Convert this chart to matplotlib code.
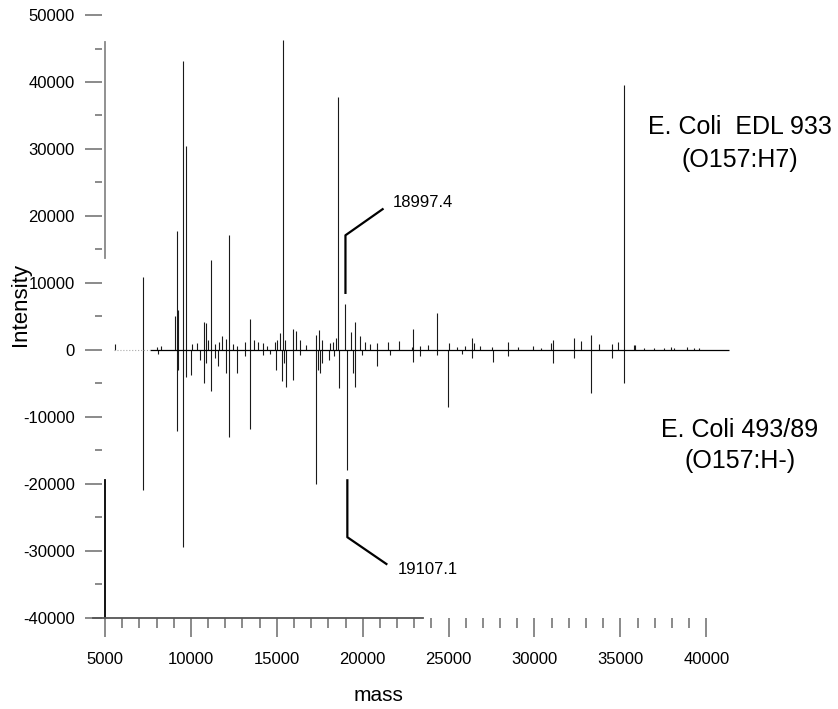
import matplotlib
matplotlib.use('Agg')
import matplotlib.pyplot as plt

plt.rcParams['font.family'] = ['Liberation Sans', 'DejaVu Sans']

# E. coli EDL 933 (O157:H7), plotted upwards
upper_mass = [5580, 7209, 8000, 8250, 9070, 9186, 9273, 9518, 9692, 10058,
              10349, 10756, 10872, 10988, 11163, 11395, 11628, 11802, 12035,
              12209, 12442, 12674, 13140, 13430, 13663, 13895, 14186, 14419,
              14884, 15000, 15174, 15349, 15465, 15930, 16105, 16337, 16700,
              17267, 17442, 17616, 18081, 18256, 18430, 18546, 18997, 19303,
              19535, 19826, 20116, 20407, 20814, 21453, 22093, 22849, 22907,
              23314, 23779, 24302, 25000, 25500, 25930, 26337, 26453, 26802,
              27500, 28430, 29012, 29884, 30400, 30988, 31105, 32325, 32732,
              33314, 33779, 34535, 34884, 35193, 35814, 35872, 36400, 36977,
              37558, 37965, 38140, 38896, 39303, 39593]
upper_int = [900, 10900, 400, 500, 5000, 17700, 6000, 43200, 30500, 800,
             1000, 4200, 4000, 1500, 13400, 800, 1200, 2000, 1600,
             17100, 800, 600, 1200, 4600, 1500, 1200, 1000, 600,
             1100, 1500, 2500, 46200, 1500, 3100, 2800, 1500, 700,
             2200, 3000, 1500, 1000, 1200, 1800, 37800, 6900, 2600,
             4100, 2000, 1200, 800, 1000, 1200, 1300, 400, 3100,
             500, 700, 5500, 1000, 400, 500, 1800, 1000, 500,
             400, 1200, 400, 500, 300, 1000, 1400, 1700, 1300,
             2200, 800, 900, 1200, 39500, 700, 700, 300, 300,
             300, 400, 300, 400, 200, 200]

# E. coli 493/89 (O157:H-), plotted downwards
lower_mass = [7209, 8100, 9209, 9244, 9518, 9709, 10000, 10523, 10756, 10872,
              11163, 11395, 11570, 12035, 12209, 12674, 13140, 13430, 14186,
              14600, 14942, 15290, 15407, 15523, 15930, 16337, 17267, 17384,
              17500, 17616, 18023, 18314, 18605, 19107, 19419, 19564, 19942,
              20814, 21570, 22907, 23314, 24302, 24942, 25756, 26337, 27558,
              28430, 31105, 32325, 33314, 34535, 35193]
lower_int = [-21000, -600, -12200, -3000, -29400, -4000, -3800, -1500, -5000, -2000,
             -6100, -1200, -2500, -3400, -13000, -3500, -1000, -11800, -800,
             -600, -3000, -4700, -2000, -5500, -4500, -800, -20100, -3000,
             -3500, -2000, -1500, -1000, -5700, -17900, -3500, -5500, -800,
             -2500, -800, -1800, -1000, -800, -8500, -600, -1200, -1900,
             -1000, -2000, -1300, -6400, -1200, -4900]

# callout leaders: (mass, intensity) corners
upper_lead_m = [18997, 18997, 21160]
upper_lead_i = [8500, 17100, 21000]
lower_lead_m = [19107, 19107, 21380]
lower_lead_i = [-19500, -28000, -32000]

fig = plt.figure(figsize=(8.38, 7.09), dpi=100)
ax = fig.add_axes([0.1222, 0.129, 0.7514, 0.8498])

ax.vlines(upper_mass, 0, upper_int, color='#1a1a1a', linewidth=0.8)
ax.vlines(lower_mass, 0, lower_int, color='#1a1a1a', linewidth=0.8)
ax.hlines(0, 7600, 41350, color='black', linewidth=0.9)
ax.hlines(0, 5500, 7600, color='#aaaaaa', linewidth=0.8, linestyles=':')

ax.plot(upper_lead_m, upper_lead_i, color='black', linewidth=1.6)
ax.plot(lower_lead_m, lower_lead_i, color='black', linewidth=1.6)
ax.text(21750, 22000, '18997.4', fontsize=12, va='center', ha='left')
ax.text(22050, -32800, '19107.1', fontsize=12, va='center', ha='left')

# broken axis lines as in the scanned original
ax.plot([5000, 5000], [46000, 13700], color='#888888', linewidth=1.3)
ax.plot([5000, 5000], [-19400, -40000], color='black', linewidth=1.3)
ax.plot([4300, 23500], [-40000, -40000], color='#555555', linewidth=1.3,
        clip_on=False)

ax.set_xlim(4850, 41500)
ax.set_ylim(-40000, 50000)

for side in ['top', 'right', 'left', 'bottom']:
    ax.spines[side].set_visible(False)

ax.set_xticks(range(5000, 40001, 5000))
ax.set_xticks(range(5000, 40001, 1000), minor=True)
ax.set_yticks(range(-40000, 50001, 10000))
ax.set_yticks(range(-35000, 50000, 5000), minor=True)
ax.set_yticklabels([str(v) for v in range(-40000, 50001, 10000)])

ax.tick_params(axis='x', which='major', length=14, width=1.2, color='#777777',
               pad=11, labelsize=12)
ax.tick_params(axis='x', which='minor', length=7, width=1.2, color='#777777')
ax.tick_params(axis='y', which='major', length=12, width=1.2, color='#777777',
               pad=8, labelsize=12)
ax.tick_params(axis='y', which='minor', length=5, width=1.2, color='#777777')

ax.set_xlabel('mass', fontsize=15, va='center')
ax.xaxis.set_label_coords(0.439, -0.1286)
ax.set_ylabel('Intensity', fontsize=16, va='center')
ax.yaxis.set_label_coords((20 - 102.4) / 629.7, (617.5 - 304) / 602.5)

fig.text(740 / 838, 1 - 127 / 709, 'E. Coli  EDL 933', fontsize=18,
         ha='center', va='center')
fig.text(740 / 838, 1 - 160 / 709, '(O157:H7)', fontsize=18,
         ha='center', va='center')
fig.text(740 / 838, 1 - 430 / 709, 'E. Coli 493/89', fontsize=18,
         ha='center', va='center')
fig.text(740 / 838, 1 - 461 / 709, '(O157:H-)', fontsize=18,
         ha='center', va='center')

fig.savefig('out.png', dpi=100)
plt.close(fig)
